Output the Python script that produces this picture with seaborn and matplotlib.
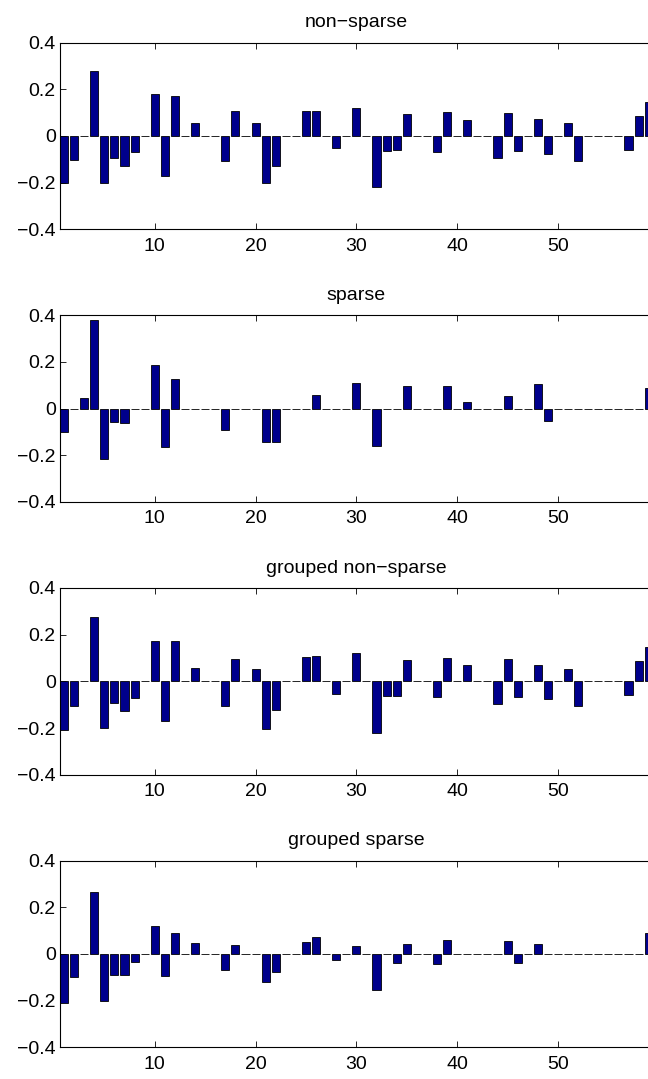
import matplotlib
matplotlib.use("Agg")
import pandas as pd
import seaborn as sns
from matplotlib import pyplot as plt

# coefficient index 1..59
idx = list(range(1, 60))

titles = ["non\u2212sparse", "sparse", "grouped non\u2212sparse", "grouped sparse"]

non_sparse = [
    -0.200, -0.105, 0, 0.280, -0.200, -0.093, -0.130, -0.070, 0, 0.179,
    -0.172, 0.173, 0, 0.056, 0, 0, -0.108, 0.107, 0, 0.056,
    -0.203, -0.130, 0, 0, 0.106, 0.106, 0, -0.053, 0, 0.121,
    0, -0.220, -0.064, -0.060, 0.096, 0, 0, -0.070, 0.101, 0,
    0.070, 0, 0, -0.096, 0.097, -0.064, 0, 0.074, -0.076, 0,
    0.054, -0.108, 0, 0, 0, 0, -0.060, 0.087, 0.147,
]
sparse = [
    -0.101, 0, 0.044, 0.379, -0.214, -0.056, -0.063, 0, 0, 0.186,
    -0.163, 0.126, 0, 0, 0, 0, -0.093, 0, 0, 0,
    -0.141, -0.141, 0, 0, 0, 0.059, 0, 0, 0, 0.109,
    0, -0.161, 0, 0, 0.097, 0, 0, 0, 0.096, 0,
    0.029, 0, 0, 0, 0.056, 0, 0, 0.104, -0.054, 0,
    0, 0, 0, 0, 0, 0, 0, 0, 0.089,
]
grouped_non_sparse = [
    -0.207, -0.106, 0, 0.276, -0.200, -0.093, -0.129, -0.071, 0, 0.174,
    -0.169, 0.171, 0, 0.056, 0, 0, -0.106, 0.096, 0, 0.054,
    -0.203, -0.123, 0, 0, 0.104, 0.107, 0, -0.054, 0, 0.120,
    0, -0.220, -0.063, -0.063, 0.093, 0, 0, -0.069, 0.101, 0,
    0.069, 0, 0, -0.096, 0.097, -0.066, 0, 0.071, -0.074, 0,
    0.054, -0.107, 0, 0, 0, 0, -0.060, 0.087, 0.147,
]
grouped_sparse = [
    -0.209, -0.097, 0, 0.264, -0.201, -0.091, -0.091, -0.033, 0, 0.119,
    -0.096, 0.089, 0, 0.049, 0, 0, -0.070, 0.037, 0, 0,
    -0.119, -0.077, 0, 0, 0.050, 0.071, 0, -0.027, 0, 0.034,
    0, -0.153, 0, -0.037, 0.041, 0, 0, -0.043, 0.061, 0,
    0, 0, 0, 0, 0.054, -0.040, 0, 0.041, 0, 0,
    0, 0, 0, 0, 0, 0, 0, 0, 0.091,
]

series = [non_sparse, sparse, grouped_non_sparse, grouped_sparse]

sns.set_style("ticks")
plt.rcParams["font.family"] = ["Liberation Sans", "DejaVu Sans"]
plt.rcParams["text.color"] = "black"

fig = plt.figure(figsize=(6.48, 10.79), dpi=100)

# axes boxes in pixels (top, bottom); right edge runs past the figure
tops = [42.7, 315.3, 588.0, 860.7]
bottoms = [229.3, 502.0, 774.7, 1047.3]
W, H = 648, 1079
left_px, right_px = 60, 652.7

for title, vals, top, bot in zip(titles, series, tops, bottoms):
    ax = fig.add_axes([left_px / W, 1 - bot / H, (right_px - left_px) / W, (bot - top) / H])
    df = pd.DataFrame({"coef": idx, "value": vals})
    sns.barplot(data=df, x="coef", y="value", native_scale=True, color="#00008C",
                saturation=1, edgecolor="black", linewidth=0.6, ax=ax)
    ax.set_xlim(0.6, 59.4)
    ax.set_ylim(-0.4, 0.4)
    ax.set_xticks([10, 20, 30, 40, 50])
    ax.set_yticks([-0.4, -0.2, 0, 0.2, 0.4])
    ax.set_yticklabels(["\u22120.4", "\u22120.2", "0", "0.2", "0.4"])
    ax.tick_params(direction="in", top=True, right=False, length=4.5, width=0.6,
                   labelsize=14, colors="black")
    ax.tick_params(axis="x", pad=6)
    ax.tick_params(axis="y", pad=3)
    ax.set_xlabel("")
    ax.set_ylabel("")
    for s in ax.spines.values():
        s.set_linewidth(0.8)
        s.set_color("black")
    ax.set_title(title, fontsize=14, pad=11, color="black")

fig.savefig("out.png", dpi=100)
